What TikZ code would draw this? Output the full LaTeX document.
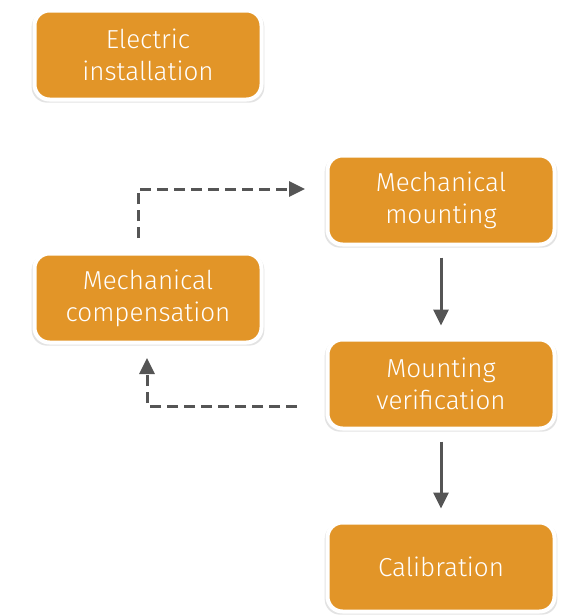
\documentclass[tikz,border=0pt]{standalone}
\usepackage{fontspec}
\setmainfont{Fira Sans}[UprightFont=* Light]
\usepackage{tikz}
\usetikzlibrary{arrows.meta,shadows}
\definecolor{boxorange}{HTML}{E29528}
\definecolor{arrowgray}{HTML}{555555}

\begin{document}
\begin{tikzpicture}[x=1pt,y=-1pt,
        stepbox/.style={draw=white, line width=4pt, fill=boxorange, rounded corners=15pt,
            minimum width=227pt, minimum height=89pt, align=center, text=white,
            font=\fontsize{26}{32}\selectfont,
            drop shadow={shadow xshift=0pt, shadow yshift=-2pt, shadow scale=1.025, opacity=0.22, fill=gray}},
        flow/.style={draw=arrowgray, line width=3pt, -{Triangle[length=16pt,width=15pt]}},
        back/.style={flow, dash pattern=on 11pt off 6pt}]
        \useasboundingbox (0,0) rectangle (563,616);
        \node[stepbox] (electric) at (148,55) {Electric\\installation};
        \node[stepbox] (mounting) at (441,200) {Mechanical\\mounting};
        \node[stepbox] (compensation) at (148,298) {Mechanical\\compensation};
        \node[stepbox] (verification) at (441,384) {Mounting\\verification};
        \node[stepbox] (calibration) at (441,567) {Calibration};
        % main line
        \draw[flow, shorten <=11pt, shorten >=12pt] (mounting) -- (verification);
        \draw[flow, shorten <=11pt, shorten >=12pt] (verification) -- (calibration);
        % loop back
        \coordinate (upstart) at (138,238);
        \coordinate (upend) at (305,189);
        \coordinate (downstart) at (297,406);
        \coordinate (downend) at (147,358);
        \draw[back] (upstart) |- (upend);
        \draw[back] (downstart) -| (downend);
\end{tikzpicture}
\end{document}
